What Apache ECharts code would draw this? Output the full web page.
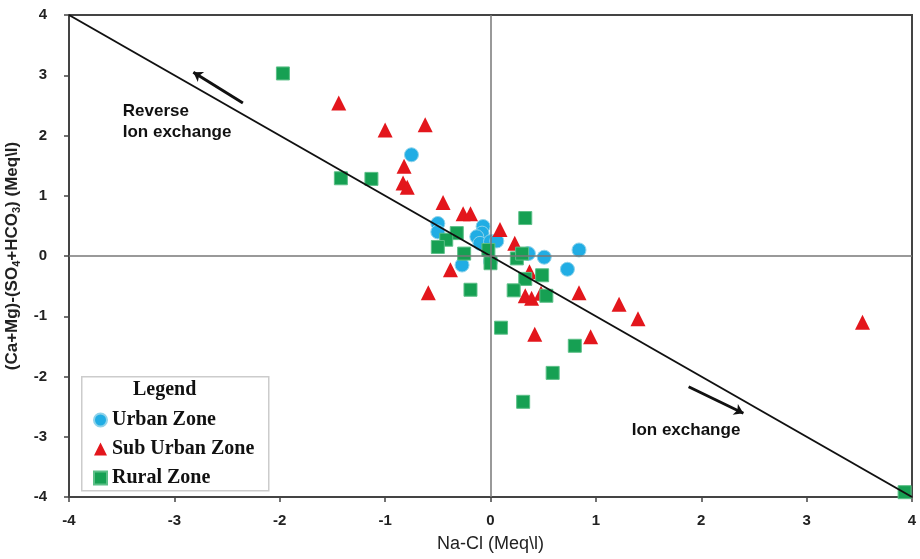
<!DOCTYPE html>
<html>
<head>
<meta charset="utf-8">
<script src="https://cdn.jsdelivr.net/npm/echarts@6/dist/echarts.min.js"></script>
<style>
  html, body { margin: 0; padding: 0; background: #fff; }
  #chart { width: 920px; height: 559px; }
</style>
</head>
<body>
<div id="chart"></div>
<script>
// Na-Cl vs (Ca+Mg)-(SO4+HCO3)
var urban = [
  [-0.75, 1.68], [-0.50, 0.54], [-0.50, 0.40], [-0.07, 0.49], [-0.08, 0.38],
  [-0.13, 0.32], [-0.10, 0.21], [0.00, 0.24], [0.06, 0.25], [0.00, -0.09],
  [-0.27, -0.15], [0.36, 0.04], [0.51, -0.02], [0.84, 0.10], [0.73, -0.22]
];
var subUrban = [
  [-1.44, 2.54], [-1.00, 2.09], [-0.62, 2.18], [-0.82, 1.49], [-0.83, 1.21],
  [-0.79, 1.14], [-0.45, 0.89], [-0.26, 0.70], [-0.19, 0.70], [0.09, 0.44],
  [0.23, 0.21], [-0.38, -0.23], [0.37, -0.26], [-0.59, -0.61], [0.33, -0.66],
  [0.39, -0.70], [0.48, -0.62], [0.84, -0.61], [0.42, -1.30], [0.95, -1.34],
  [1.22, -0.80], [1.40, -1.04], [3.53, -1.10]
];
var rural = [
  [-1.97, 3.03], [-1.42, 1.29], [-1.13, 1.28], [0.33, 0.63], [-0.32, 0.38],
  [-0.42, 0.27], [-0.50, 0.15], [-0.25, 0.04], [-0.02, 0.10], [0.00, -0.12],
  [0.25, -0.04], [0.30, 0.04], [0.49, -0.32], [0.33, -0.38], [-0.19, -0.56],
  [0.22, -0.57], [0.53, -0.66], [0.10, -1.19], [0.80, -1.49], [0.59, -1.94],
  [0.31, -2.42], [3.93, -3.92]
];
// 1:1 line and the two arrows
var equiline = [[-4, 4], [4, -4]];
var arrows = [
  [[-2.35, 2.54], [-2.82, 3.05]],
  [[1.88, -2.17], [2.40, -2.61]]
];
var notes = [
  { x: -3.49, y: 2.22, text: 'Reverse\nIon exchange' },
  { x: 1.34, y: -2.89, text: 'Ion exchange' }
];

var chart = echarts.init(document.getElementById('chart'));

var tickFont = { fontFamily: 'Liberation Sans, Arial', fontWeight: 'bold', fontSize: 15, color: '#222' };

var option = {
  animation: false,
  backgroundColor: '#fff',
  grid: {
    left: 69, right: 8, top: 15, bottom: 62,
    outerBoundsMode: 'none',
    show: true, borderColor: '#444', borderWidth: 2
  },
  xAxis: {
    type: 'value', min: -4, max: 4, interval: 1,
    name: 'Na-Cl (Meq\\l)', nameLocation: 'middle', nameGap: 38,
    nameTextStyle: { fontFamily: 'Liberation Sans, Arial', fontSize: 18, color: '#222' },
    axisLine: { onZero: false, lineStyle: { color: '#444', width: 2 } },
    axisTick: { show: true, length: 5, lineStyle: { color: '#444', width: 1.5 } },
    axisLabel: Object.assign({ margin: 16 }, tickFont),
    splitLine: { show: false }
  },
  yAxis: {
    type: 'value', min: -4, max: 4, interval: 1,
    name: '{n|(Ca+Mg)-(SO}{s|4}{n|+HCO}{s|3}{n|) (Meq\\l)}',
    nameLocation: 'middle', nameGap: 35, nameRotate: 90,
    nameTextStyle: {
      rich: {
        n: { fontFamily: 'Liberation Sans, Arial', fontWeight: 'bold', fontSize: 17, color: '#222' },
        s: { fontFamily: 'Liberation Sans, Arial', fontWeight: 'bold', fontSize: 11, color: '#222', padding: [10, 0, 0, 0] }
      }
    },
    axisLine: { onZero: false, lineStyle: { color: '#444', width: 2 } },
    axisTick: { show: true, length: 5, lineStyle: { color: '#444', width: 1.5 } },
    axisLabel: Object.assign({ margin: 22 }, tickFont),
    splitLine: { show: false }
  },
  legend: {
    orient: 'vertical', left: 88, top: 405,
    itemWidth: 13, itemHeight: 13, itemGap: 9,
    data: ['Urban Zone', 'Sub Urban Zone', 'Rural Zone'],
    itemStyle: { opacity: 1 },
    textStyle: { fontFamily: 'Liberation Serif, Times New Roman', fontWeight: 'bold', fontSize: 20, color: '#111' }
  },
  graphic: [
    {
      type: 'rect', left: 81, top: 376, z: 0,
      shape: { width: 187, height: 114 },
      style: { fill: '#fff', stroke: '#ccc', lineWidth: 1.5 }
    },
    {
      type: 'text', left: 133, top: 380, z: 1,
      style: { text: 'Legend', font: 'bold 20px "Liberation Serif", "Times New Roman"', fill: '#111' }
    }
  ],
  series: [
    {
      name: 'Urban Zone', type: 'scatter', data: urban, symbol: 'circle', symbolSize: 14, z: 3,
      itemStyle: { color: '#21ADE4', borderColor: '#8fd3ea', borderWidth: 1, opacity: 1 },
      markLine: {
        silent: true, symbol: 'none', label: { show: false }, animation: false,
        lineStyle: { color: '#777', width: 1.5, type: 'solid' },
        data: [{ xAxis: 0 }, { yAxis: 0 }]
      }
    },
    {
      name: 'Sub Urban Zone', type: 'scatter', data: subUrban, symbol: 'triangle', symbolSize: 15, z: 3,
      itemStyle: { color: '#E3161C', opacity: 1 }
    },
    {
      name: 'Rural Zone', type: 'scatter', data: rural, symbol: 'rect', symbolSize: 13, z: 3,
      itemStyle: { color: '#16A053', borderColor: '#5cbf87', borderWidth: 1, opacity: 1 }
    },
    {
      name: 'equiline', type: 'line', data: equiline, symbol: 'none', z: 4,
      lineStyle: { color: '#111', width: 2 }
    },
    {
      name: 'arrows', type: 'lines', coordinateSystem: 'cartesian2d', z: 4,
      symbol: ['none', 'arrow'], symbolSize: [8, 9],
      lineStyle: { color: '#111', width: 3, opacity: 1 },
      data: arrows.map(function (a) { return { coords: a }; })
    },
    {
      name: 'notes', type: 'scatter', symbolSize: 0, z: 5, silent: true,
      itemStyle: { opacity: 1 },
      data: notes.map(function (n) { return { value: [n.x, n.y], text: n.text }; }),
      label: {
        show: true, position: 'right', distance: 0,
        formatter: function (p) { return p.data.text; },
        fontFamily: 'Liberation Sans, Arial', fontWeight: 'bold', fontSize: 17,
        lineHeight: 21, color: '#111', align: 'left'
      }
    }
  ]
};

chart.setOption(option);
</script>
</body>
</html>
